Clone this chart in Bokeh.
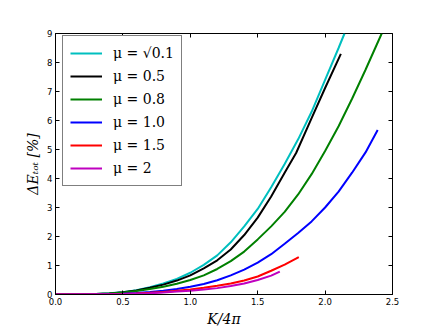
from bokeh.plotting import figure
from bokeh.models import Range1d, FixedTicker, LinearAxis, CustomJSTickFormatter, Legend, LegendItem
from bokeh.embed import file_html
from bokeh.resources import INLINE

# ---- data ----
labels = ["μ = √0.1", "μ = 0.5", "μ = 0.8", "μ = 1.0", "μ = 1.5", "μ = 2"]
colors = ["#00BFBF", "#000000", "#008000", "#0000FF", "#FF0000", "#BF00BF"]

x_sqrt01 = [0.0, 0.1, 0.2, 0.3, 0.4, 0.5, 0.6, 0.7, 0.8, 0.9, 1.0, 1.1, 1.2, 1.3, 1.4, 1.5, 1.6, 1.7, 1.8, 1.9, 2.0, 2.1, 2.144]
y_sqrt01 = [0.0, 0.0, 0.005, 0.017, 0.04, 0.08, 0.15, 0.25, 0.38, 0.54, 0.75, 1.02, 1.35, 1.8, 2.35, 2.95, 3.7, 4.5, 5.35, 6.3, 7.4, 8.5, 9.0]

x_05 = [0.0, 0.1, 0.2, 0.3, 0.4, 0.5, 0.6, 0.7, 0.8, 0.9, 1.0, 1.1, 1.2, 1.3, 1.4, 1.5, 1.6, 1.7, 1.785, 1.9, 2.0, 2.117]
y_05 = [0.0, 0.0, 0.005, 0.015, 0.037, 0.075, 0.14, 0.23, 0.34, 0.48, 0.66, 0.9, 1.18, 1.55, 2.05, 2.65, 3.38, 4.2, 4.88, 6.08, 7.12, 8.3]

x_08 = [0.0, 0.2, 0.3, 0.4, 0.5, 0.6, 0.7, 0.8, 0.9, 1.0, 1.1, 1.2, 1.3, 1.4, 1.5, 1.6, 1.7, 1.8, 1.9, 2.0, 2.1, 2.2, 2.3, 2.42]
y_08 = [0.0, 0.004, 0.013, 0.033, 0.065, 0.12, 0.19, 0.27, 0.37, 0.5, 0.66, 0.88, 1.15, 1.48, 1.9, 2.35, 2.85, 3.45, 4.15, 4.95, 5.8, 6.75, 7.75, 9.0]

x_10 = [0.0, 0.3, 0.4, 0.5, 0.6, 0.7, 0.8, 0.9, 1.0, 1.1, 1.2, 1.3, 1.4, 1.5, 1.6, 1.7, 1.8, 1.9, 2.0, 2.1, 2.2, 2.3, 2.39]
y_10 = [0.0, 0.006, 0.015, 0.03, 0.055, 0.09, 0.13, 0.19, 0.27, 0.36, 0.49, 0.66, 0.86, 1.1, 1.39, 1.75, 2.12, 2.52, 3.0, 3.55, 4.2, 4.9, 5.67]

x_15 = [0.0, 0.4, 0.5, 0.6, 0.7, 0.8, 0.9, 1.0, 1.1, 1.2, 1.3, 1.4, 1.5, 1.6, 1.7, 1.805]
y_15 = [0.0, 0.008, 0.02, 0.035, 0.06, 0.09, 0.13, 0.17, 0.23, 0.3, 0.38, 0.48, 0.62, 0.82, 1.03, 1.29]

x_20 = [0.0, 0.5, 0.7, 0.8, 0.9, 1.0, 1.1, 1.2, 1.3, 1.4, 1.5, 1.6, 1.664]
y_20 = [0.0, 0.015, 0.045, 0.07, 0.1, 0.13, 0.17, 0.22, 0.29, 0.38, 0.5, 0.65, 0.79]

series_x = [x_sqrt01, x_05, x_08, x_10, x_15, x_20]
series_y = [y_sqrt01, y_05, y_08, y_10, y_15, y_20]

x_ticks = [0.0, 0.5, 1.0, 1.5, 2.0, 2.5]
y_ticks = [0, 1, 2, 3, 4, 5, 6, 7, 8, 9]

p = figure(frame_width=337, frame_height=261,
           x_range=Range1d(0, 2.5), y_range=Range1d(0, 9),
           output_backend="svg", toolbar_location=None,
           min_border_left=55, min_border_right=36,
           min_border_top=33, min_border_bottom=30)
p.grid.visible = False
p.outline_line_color = "black"
p.outline_line_width = 1
p.background_fill_color = "white"
p.border_fill_color = "white"

p.xaxis.ticker = FixedTicker(ticks=x_ticks)
p.yaxis.ticker = FixedTicker(ticks=y_ticks)
p.xaxis.formatter = CustomJSTickFormatter(code="return tick.toFixed(1);")
p.yaxis.formatter = CustomJSTickFormatter(code="return tick.toFixed(0);")

for ax in [p.xaxis[0], p.yaxis[0]]:
    ax.major_tick_in = 4
    ax.major_tick_out = 0
    ax.minor_tick_line_color = None
    ax.axis_line_color = "black"
    ax.major_tick_line_color = "black"
    ax.major_label_text_font = "DejaVu Sans"
    ax.major_label_text_font_size = "8.5px"
    ax.major_label_text_color = "black"
    ax.major_label_standoff = 3
    ax.axis_label_text_font = "DejaVu Serif"
    ax.axis_label_text_font_style = "italic"
    ax.axis_label_text_font_size = "14px"
    ax.axis_label_text_color = "black"
    ax.axis_label_standoff = 3

p.xaxis.axis_label = "K/4π"
p.yaxis.axis_label = "ΔEₜₒₜ [%]"

top = LinearAxis(ticker=FixedTicker(ticks=x_ticks),
                 formatter=CustomJSTickFormatter(code="return '';"))
right = LinearAxis(ticker=FixedTicker(ticks=y_ticks),
                   formatter=CustomJSTickFormatter(code="return '';"))
for ax in [top, right]:
    ax.major_tick_in = 4
    ax.major_tick_out = 0
    ax.minor_tick_line_color = None
    ax.axis_line_color = None
    ax.major_tick_line_color = "black"
    ax.major_label_standoff = 0
    ax.major_label_text_font_size = "1px"
p.add_layout(top, "above")
p.add_layout(right, "right")

items = []
for xs, ys, c, lab in zip(series_x, series_y, colors, labels):
    r = p.line(xs, ys, line_color=c, line_width=2)
    items.append(LegendItem(label=lab, renderers=[r]))

legend = Legend(items=items, location=(7, 108))
legend.glyph_width = 32
legend.glyph_height = 20
legend.label_height = 20
legend.spacing = 3
legend.padding = 7
legend.margin = 0
legend.label_standoff = 11
legend.label_text_font = "DejaVu Serif"
legend.label_text_font_size = "14px"
legend.label_text_color = "black"
legend.border_line_color = "black"
legend.border_line_width = 1
legend.background_fill_color = "white"
legend.background_fill_alpha = 1
p.add_layout(legend, "center")

open("out.html", "w").write(file_html(p, INLINE))
